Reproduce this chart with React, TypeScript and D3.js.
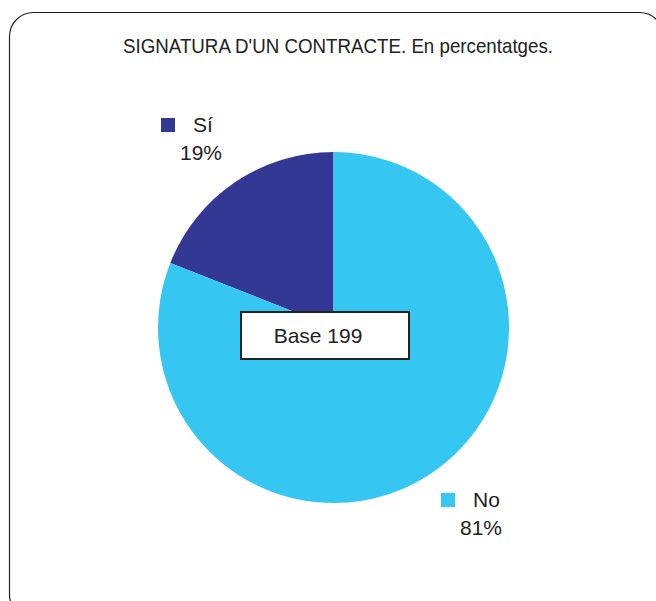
import { arc, pie, scaleOrdinal } from "d3";

const categories = ["Sí", "No"];
const values = [19, 81];
const colors = ["#333894", "#36C6F2"];
const title = "SIGNATURA D'UN CONTRACTE. En percentatges.";
const baseLabel = "Base 199";

// legend anchor positions (square top-left) per category
const legendPos: Record<string, [number, number]> = {
  "Sí": [161, 118],
  No: [441, 493],
};

export default function App() {
  const width = 656;
  const height = 601;
  const cx = 333.5;
  const cy = 327.5;
  const radius = 175.5;

  const color = scaleOrdinal<string, string>().domain(categories).range(colors);
  const data = categories.map((c, i) => ({ c, v: values[i] }));

  // Sí goes counter-clockwise from 12 o'clock, No fills the rest
  const slices = pie<(typeof data)[number]>()
    .value((d) => d.v)
    .sort(null)
    .startAngle(0)
    .endAngle(-2 * Math.PI)(data);

  const arcGen = arc<any>().innerRadius(0).outerRadius(radius);

  return (
    <svg
      width={width}
      height={height}
      style={{ position: "absolute", left: 0, top: 0, background: "#fff" }}
      fontFamily="'Liberation Sans', Arial, sans-serif"
    >
      {/* frame */}
      <rect
        x={9.5}
        y={12.5}
        width={654}
        height={606}
        rx={24}
        fill="#fff"
        stroke="#222"
        strokeWidth={1.2}
      />

      {/* narrow look of the original title */}
      <text
        x={123}
        y={53}
        fontSize={21}
        textLength={430}
        lengthAdjust="spacingAndGlyphs"
        fill="#222"
      >
        {title}
      </text>

      <g transform={`translate(${cx},${cy})`}>
        {slices.map((s) => (
          <path key={s.data.c} d={arcGen(s) ?? ""} fill={color(s.data.c)} />
        ))}
      </g>

      {/* base box */}
      <rect x={241} y={312} width={168} height={47} fill="#fff" stroke="#222" strokeWidth={2} />
      <text x={318} y={343} textAnchor="middle" fontSize={21} fill="#222">
        {baseLabel}
      </text>

      {/* legend labels */}
      {data.map((d) => {
        const [lx, ly] = legendPos[d.c];
        return (
          <g key={d.c}>
            <rect x={lx} y={ly} width={14} height={14} fill={color(d.c)} />
            <text x={lx + 32} y={ly + 14} fontSize={21} fill="#222">
              {d.c}
            </text>
            <text x={lx + 40} y={ly + 42} textAnchor="middle" fontSize={21} fill="#222">
              {`${d.v}%`}
            </text>
          </g>
        );
      })}
    </svg>
  );
}
